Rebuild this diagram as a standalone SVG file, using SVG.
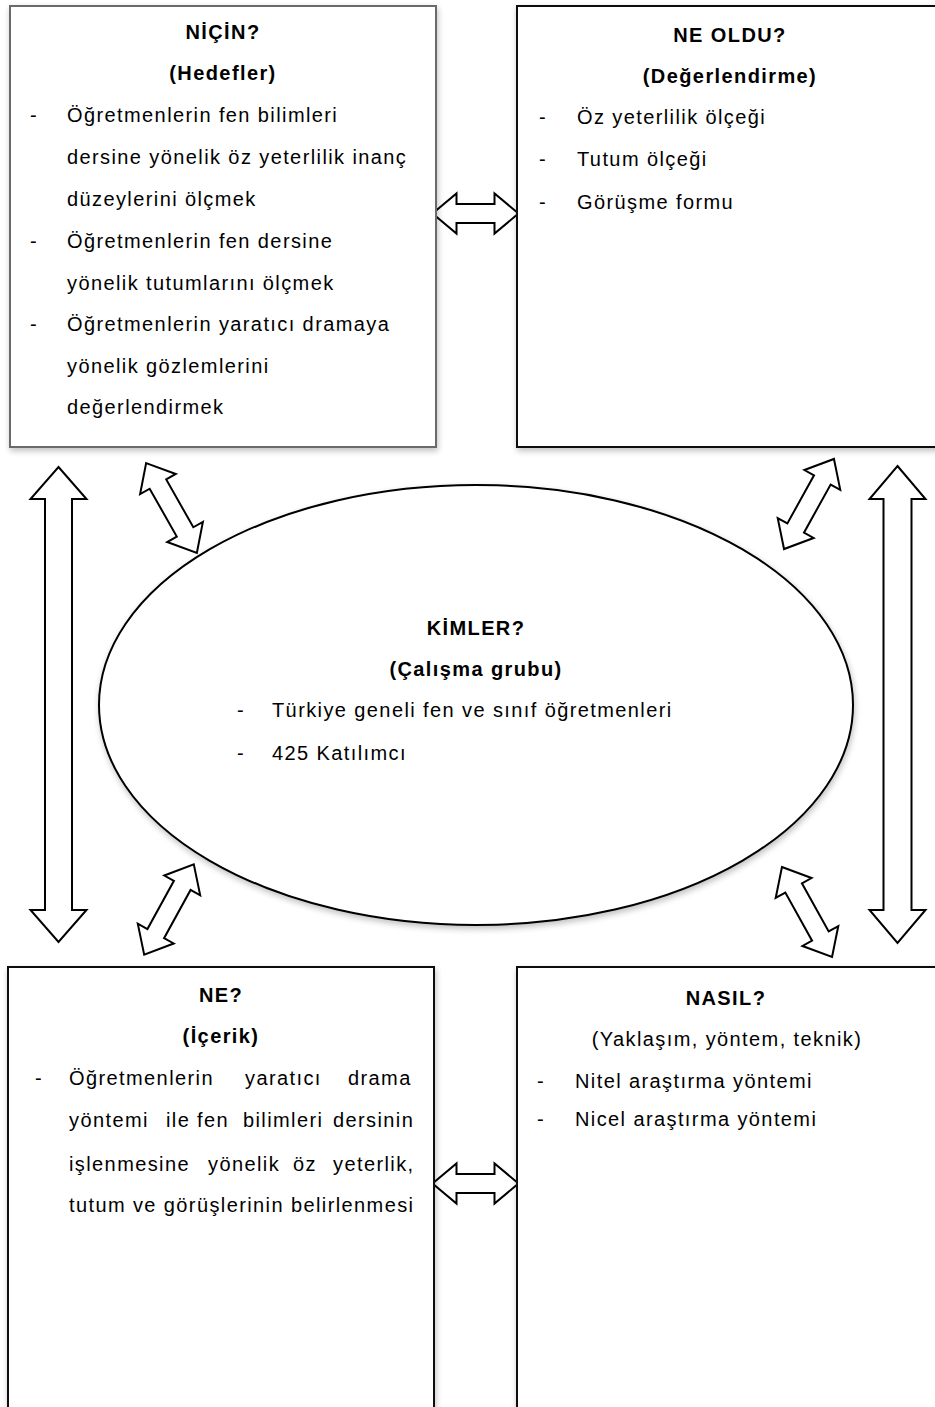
<svg xmlns="http://www.w3.org/2000/svg" width="935" height="1407" viewBox="0 0 935 1407">
<defs>
<filter id="sh" x="-10%" y="-10%" width="120%" height="120%">
<feGaussianBlur in="SourceAlpha" stdDeviation="3"/>
<feOffset dx="1" dy="3" result="b"/>
<feComponentTransfer><feFuncA type="linear" slope="0.25"/></feComponentTransfer>
<feMerge><feMergeNode/><feMergeNode in="SourceGraphic"/></feMerge>
</filter>
<path id="dbl" d="M-51.5,0 L-27.5,-20.5 L-27.5,-9.5 L27.5,-9.5 L27.5,-20.5 L51.5,0 L27.5,20.5 L27.5,9.5 L-27.5,9.5 L-27.5,20.5 Z"/>
</defs>
<style>
text{font-family:"Liberation Sans",Arial,sans-serif;font-size:20px;fill:#000;letter-spacing:1.4px}
.b{font-weight:bold}
.c{text-anchor:middle}
.t{letter-spacing:0}
.box{fill:#fff;stroke:#111;stroke-width:2}
.arr{fill:#fff;stroke:#000;stroke-width:2;stroke-linejoin:miter}
</style>
<rect width="935" height="1407" fill="#fff"/>

<g id="connectors">
<path class="arr" d="M432.5,213.5 L456.5,193.5 L456.5,204 L494.5,204 L494.5,193.5 L518.5,213.5 L494.5,233.5 L494.5,223 L456.5,223 L456.5,233.5 Z"/>
<path class="arr" d="M432.5,1183.5 L456.5,1163.5 L456.5,1174 L494.5,1174 L494.5,1163.5 L518.5,1183.5 L494.5,1203.5 L494.5,1193 L456.5,1193 L456.5,1203.5 Z"/>
<path class="arr" d="M58.5,467 L86.5,499 L72,499 L72,910 L86.5,910 L58.5,942 L30.5,910 L45,910 L45,499 L30.5,499 Z"/>
<path class="arr" d="M897.5,466 L925.5,499 L911.5,499 L911.5,910 L925.5,910 L897.5,943 L869.5,910 L883.5,910 L883.5,499 L869.5,499 Z"/>
<use class="arr" href="#dbl" transform="translate(171.5,508) rotate(60.5)"/>
<use class="arr" href="#dbl" transform="translate(809,504) rotate(119)"/>
<use class="arr" href="#dbl" transform="translate(169,909.5) rotate(118.8)"/>
<use class="arr" href="#dbl" transform="translate(807,912) rotate(60.9)"/>
</g>

<g id="nicin">
<rect x="10" y="6" width="426" height="441" fill="#fff" stroke="#6a6a6a" stroke-width="2" filter="url(#sh)"/>
<text class="b c" x="223" y="39">NİÇİN?</text>
<text class="b c" x="223" y="80">(Hedefler)</text>
<text x="30" y="122">-</text><text x="67" y="122">Öğretmenlerin fen bilimleri</text>
<text x="67" y="164">dersine yönelik öz yeterlilik inanç</text>
<text x="67" y="206">düzeylerini ölçmek</text>
<text x="30" y="248">-</text><text x="67" y="248">Öğretmenlerin fen dersine</text>
<text x="67" y="290">yönelik tutumlarını ölçmek</text>
<text x="30" y="331">-</text><text x="67" y="331">Öğretmenlerin yaratıcı dramaya</text>
<text x="67" y="373">yönelik gözlemlerini</text>
<text x="67" y="414">değerlendirmek</text>
</g>

<g id="neoldu">
<rect class="box" x="517" y="6" width="430" height="441" filter="url(#sh)"/>
<text class="b c" x="730" y="42">NE OLDU?</text>
<text class="b c" x="730" y="83">(Değerlendirme)</text>
<text x="539" y="124">-</text><text x="577" y="124">Öz yeterlilik ölçeği</text>
<text x="539" y="166">-</text><text x="577" y="166">Tutum ölçeği</text>
<text x="539" y="209">-</text><text x="577" y="209">Görüşme formu</text>
</g>

<g id="kimler">
<ellipse cx="476" cy="705" rx="377" ry="220" fill="#fff" stroke="#000" stroke-width="2" filter="url(#sh)"/>
<text class="b c" x="476" y="635">KİMLER?</text>
<text class="b c" x="476" y="676">(Çalışma grubu)</text>
<text x="237" y="717">-</text><text x="272" y="717">Türkiye geneli fen ve sınıf öğretmenleri</text>
<text x="237" y="760">-</text><text x="272" y="760">425 Katılımcı</text>
</g>

<g id="ne">
<rect class="box" x="8" y="967" width="426" height="460" filter="url(#sh)"/>
<text class="b c" x="221" y="1002">NE?</text>
<text class="b c" x="221" y="1043">(İçerik)</text>
<text x="35" y="1085">-</text>
<text y="1085"><tspan x="69">Öğretmenlerin</tspan><tspan x="245">yaratıcı</tspan><tspan x="348">drama</tspan></text>
<text y="1127"><tspan x="69">yöntemi</tspan><tspan x="166">ile</tspan><tspan x="197">fen</tspan><tspan x="243">bilimleri</tspan><tspan x="333">dersinin</tspan></text>
<text y="1171"><tspan x="69">işlenmesine</tspan><tspan x="208">yönelik</tspan><tspan x="293">öz</tspan><tspan x="333">yeterlik,</tspan></text>
<text class="t" x="69" y="1212" textLength="344" lengthAdjust="spacing">tutum ve görüşlerinin belirlenmesi</text>
</g>

<g id="nasil">
<rect class="box" x="517" y="967" width="430" height="460" filter="url(#sh)"/>
<text class="b c" x="726" y="1005">NASIL?</text>
<text class="c" x="727" y="1046">(Yaklaşım, yöntem, teknik)</text>
<text x="537" y="1088">-</text><text x="575" y="1088">Nitel araştırma yöntemi</text>
<text x="537" y="1126">-</text><text x="575" y="1126">Nicel araştırma yöntemi</text>
</g>
</svg>
